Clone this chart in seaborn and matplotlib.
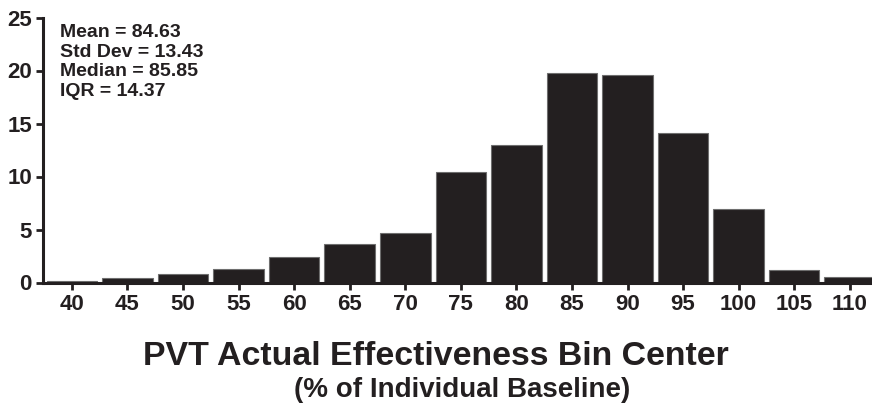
import matplotlib
matplotlib.use("Agg")
import matplotlib.pyplot as plt
import seaborn as sns
import pandas as pd

# Histogram of PVT actual effectiveness (bin centers, % of individual baseline)
bin_centers = [40, 45, 50, 55, 60, 65, 70, 75, 80, 85, 90, 95, 100, 105, 110]
percent = [0.15, 0.4, 0.8, 1.25, 2.43, 3.6, 4.7, 10.4, 12.94, 19.73, 19.58, 14.1, 6.9, 1.15, 0.5]
stats_lines = ["Mean = 84.63", "Std Dev = 13.43", "Median = 85.85", "IQR = 14.37"]
y_ticks = [0, 5, 10, 15, 20, 25]

df = pd.DataFrame({"center": [str(c) for c in bin_centers], "pct": percent})

sns.set_theme(style="ticks")
plt.rcParams["font.family"] = ["Liberation Sans", "DejaVu Sans"]
plt.rcParams["font.weight"] = "bold"

W, H = 872, 407
fig = plt.figure(figsize=(W / 100, H / 100), dpi=100)
ax = fig.add_axes([43 / W, (H - 282.5) / H, (W - 43) / W, 265 / H])

sns.barplot(data=df, x="center", y="pct", order=df["center"], color="#231f20",
            saturation=1, width=0.91, edgecolor="#6e6e6e", linewidth=0.8, ax=ax)

ax.set_xlim(-0.52, 14.4)
ax.set_ylim(0, 25)
ax.set_yticks(y_ticks)
ax.set_yticklabels([str(t) for t in y_ticks])
ax.set_xlabel("")
ax.set_ylabel("")

for side in ("top", "right"):
    ax.spines[side].set_visible(False)
for side in ("left", "bottom"):
    ax.spines[side].set_linewidth(2.2)
    ax.spines[side].set_color("#231f20")

ax.tick_params(axis="both", direction="out", length=5, width=2,
               color="#231f20", labelsize=16, labelcolor="#231f20", pad=3)
for lab in ax.get_xticklabels() + ax.get_yticklabels():
    lab.set_fontweight("bold")

# Summary statistics block in the upper-left corner
fig.text(60 / W, (H - 24) / H, "\n".join(stats_lines),
         ha="left", va="top", fontsize=14, fontweight="bold", color="#231f20",
         linespacing=1.2)

fig.text(435.5 / W, (H - 365) / H, "PVT Actual Effectiveness Bin Center", ha="center",
         va="baseline", fontsize=24.4, fontweight="bold", color="#231f20")
fig.text(462 / W, (H - 397) / H, "(% of Individual Baseline)", ha="center",
         va="baseline", fontsize=20, fontweight="bold", color="#231f20")

fig.savefig("out.png", dpi=100)
